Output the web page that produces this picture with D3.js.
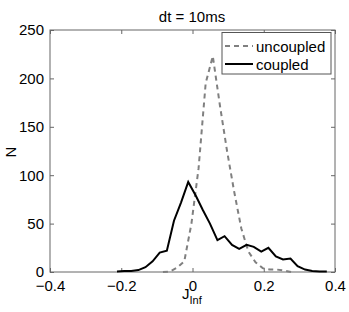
<!DOCTYPE html>
<html>
<head>
<meta charset="utf-8">
<script src="https://cdn.jsdelivr.net/npm/d3@7"></script>
<style>
  body { margin: 0; background: #fff; }
  text { font-family: "Liberation Sans", Arial, sans-serif; }
</style>
</head>
<body>
<div id="chart"></div>
<script>
// histogram bin centres and counts
var coupledX = [-0.212, -0.192, -0.172, -0.152, -0.132, -0.112, -0.092, -0.072, -0.052, -0.032,
                -0.012, 0.009, 0.029, 0.049, 0.070, 0.090, 0.111, 0.131, 0.152, 0.172,
                0.193, 0.213, 0.234, 0.254, 0.275, 0.295, 0.316, 0.336, 0.357, 0.377];
var coupledN = [0.5, 1, 1, 2, 5, 11, 20, 22, 53, 72,
                93, 79, 64, 50, 33, 37, 28, 24, 28, 26,
                21, 25, 16, 13, 14, 6, 2.5, 1, 0.5, 0.5];

var uncoupledX = [-0.083, -0.063, -0.043, -0.023, -0.003, 0.017, 0.037, 0.057, 0.077, 0.097,
                  0.117, 0.137, 0.157, 0.177, 0.197, 0.217, 0.237, 0.257, 0.277];
var uncoupledN = [0, 0.5, 4.5, 11, 50, 107, 195, 223, 172, 125,
                  83, 45, 21, 10, 4, 2.5, 2.5, 1.5, 0];

var xTicks = [-0.4, -0.2, 0, 0.2, 0.4];
var yTicks = [0, 50, 100, 150, 200, 250];

var svgWidth = 349;
var svgHeight = 312;
var margin = { top: 30, right: 14, bottom: 40, left: 50 };
var chartWidth = svgWidth - margin.left - margin.right;
var chartHeight = 272 - margin.top;

var svg = d3.select("#chart")
  .append("svg")
  .attr("width", svgWidth)
  .attr("height", svgHeight);

var chartGroup = svg.append("g")
  .attr("transform", `translate(${margin.left}, ${margin.top})`);

var xScale = d3.scaleLinear().domain([-0.4, 0.4]).range([0, chartWidth]);
var yScale = d3.scaleLinear().domain([0, 250]).range([chartHeight, 0]);

var fmt = function(d) { return d === 0 ? "0" : d3.format(".1f")(d).replace("-", "\u2212"); };

// axes with inward ticks on all four sides
var axisColor = "#666";
function styleAxis(g) {
  g.select(".domain").remove();
  g.selectAll("line").attr("stroke", axisColor);
  g.selectAll("text").attr("fill", "#000").style("font-size", "15px");
}

chartGroup.append("g")
  .attr("transform", `translate(0, ${chartHeight})`)
  .call(d3.axisBottom(xScale).tickValues(xTicks).tickFormat(fmt).tickSizeInner(-4).tickSizeOuter(0).tickPadding(8))
  .call(styleAxis);

chartGroup.append("g")
  .call(d3.axisTop(xScale).tickValues(xTicks).tickFormat("").tickSizeInner(-4).tickSizeOuter(0))
  .call(styleAxis);

chartGroup.append("g")
  .call(d3.axisLeft(yScale).tickValues(yTicks).tickSizeInner(-4).tickSizeOuter(0).tickPadding(6))
  .call(styleAxis);

chartGroup.append("g")
  .attr("transform", `translate(${chartWidth}, 0)`)
  .call(d3.axisRight(yScale).tickValues(yTicks).tickFormat("").tickSizeInner(-4).tickSizeOuter(0))
  .call(styleAxis);

chartGroup.append("rect")
  .attr("x", 0)
  .attr("y", 0)
  .attr("width", chartWidth)
  .attr("height", chartHeight)
  .attr("fill", "none")
  .attr("stroke", axisColor)
  .attr("stroke-width", 1);

var line = d3.line()
  .x(d => xScale(d[0]))
  .y(d => yScale(d[1]));

chartGroup.append("path")
  .datum(d3.zip(uncoupledX, uncoupledN))
  .attr("d", line)
  .attr("fill", "none")
  .attr("stroke", "#808080")
  .attr("stroke-width", 2)
  .attr("stroke-dasharray", "5,4");

chartGroup.append("path")
  .datum(d3.zip(coupledX, coupledN))
  .attr("d", line)
  .attr("fill", "none")
  .attr("stroke", "#000")
  .attr("stroke-width", 2);

// legend
var legend = svg.append("g").attr("transform", "translate(222, 32.5)");
legend.append("rect")
  .attr("width", 109)
  .attr("height", 41.5)
  .attr("fill", "#fff")
  .attr("stroke", "#555")
  .attr("stroke-width", 1);

legend.append("line")
  .attr("x1", 3).attr("x2", 31).attr("y1", 13.5).attr("y2", 13.5)
  .attr("stroke", "#808080").attr("stroke-width", 2).attr("stroke-dasharray", "5,4");
legend.append("text")
  .attr("x", 34).attr("y", 19)
  .style("font-size", "15px")
  .text("uncoupled");

legend.append("line")
  .attr("x1", 3).attr("x2", 31).attr("y1", 31.5).attr("y2", 31.5)
  .attr("stroke", "#000").attr("stroke-width", 2);
legend.append("text")
  .attr("x", 34).attr("y", 37)
  .style("font-size", "15px")
  .text("coupled");

// title and axis labels
svg.append("text")
  .attr("x", 192)
  .attr("y", 22)
  .style("font-size", "15px")
  .style("text-anchor", "middle")
  .text("dt = 10ms");

svg.append("text")
  .attr("transform", "rotate(-90)")
  .attr("x", -152)
  .attr("y", 16)
  .style("font-size", "15px")
  .style("text-anchor", "middle")
  .text("N");

var xLabel = svg.append("text")
  .attr("x", 182)
  .attr("y", 299)
  .style("font-size", "15px");
xLabel.append("tspan").text("J");
xLabel.append("tspan")
  .attr("dy", 5)
  .style("font-size", "11px")
  .text("Inf");
</script>
</body>
</html>
